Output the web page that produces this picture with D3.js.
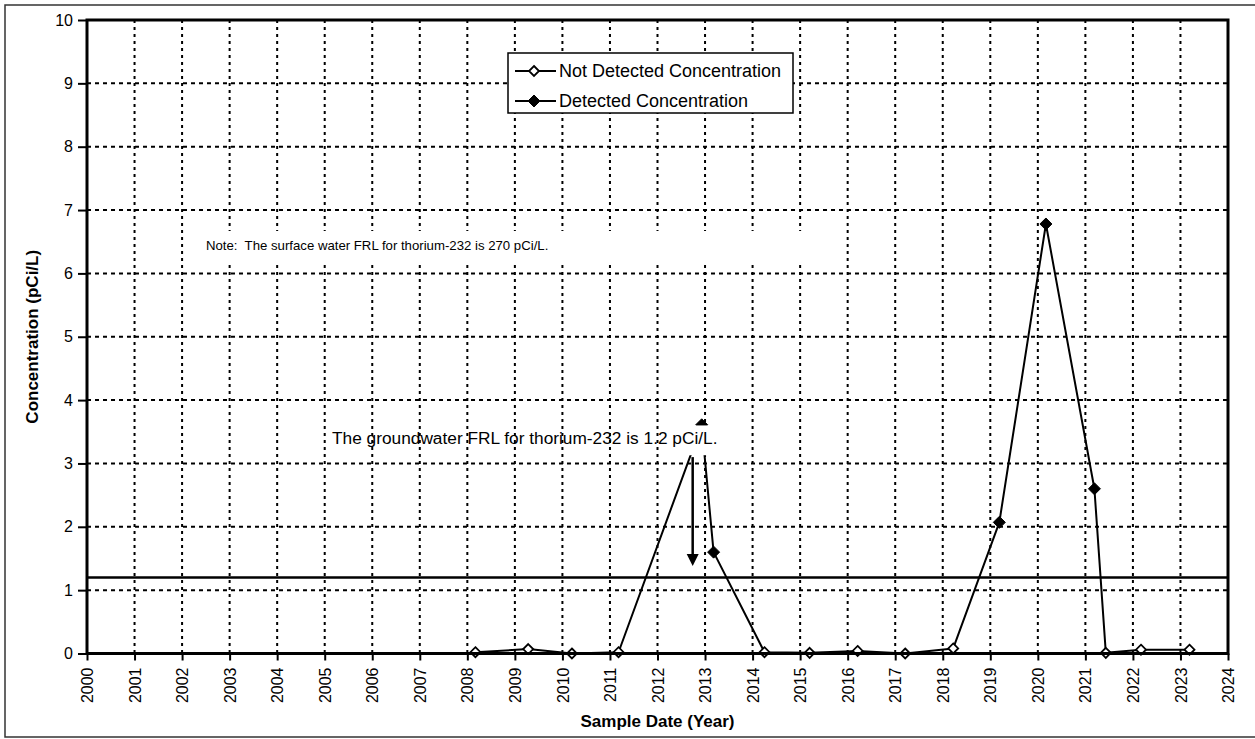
<!DOCTYPE html>
<html>
<head>
<meta charset="utf-8">
<script src="https://cdn.jsdelivr.net/npm/d3@7"></script>
<style>
  html, body { margin: 0; padding: 0; background: #fff; }
  svg { display: block; font-family: "Liberation Sans", Arial, sans-serif; }
</style>
</head>
<body>
<svg id="chart" width="1255" height="739"></svg>
<script>
// Thorium-232 sampling history (pCi/L)
const sampleDates = [2008.17, 2009.28, 2010.2, 2011.18, 2012.93, 2013.18, 2014.25, 2015.2, 2016.21,
                     2017.21, 2018.22, 2019.19, 2020.17, 2021.19, 2021.43, 2022.17, 2023.19];
const concentrations = [0.02, 0.07, 0.0, 0.02, 3.61, 1.6, 0.02, 0.01, 0.04,
                        0.0, 0.08, 2.07, 6.78, 2.6, 0.01, 0.06, 0.06];
const detectedFlags = [false, false, false, false, true, true, false, false, false,
                       false, false, true, true, true, false, false, false];
const yearTicks = d3.range(2000, 2025);
const concTicks = d3.range(0, 11);
const groundwaterFRL = 1.2;
const legendLabels = ["Not Detected Concentration", "Detected Concentration"];
const noteText = "Note:  The surface water FRL for thorium-232 is 270 pCi/L.";
const frlText = "The groundwater FRL for thorium-232 is 1.2 pCi/L.";

const samples = sampleDates.map((d, i) => ({ date: d, value: concentrations[i], detected: detectedFlags[i] }));

const svg = d3.select("#chart");
const plot = { left: 87, right: 1228, top: 20, bottom: 653.5 };

const x = d3.scaleLinear().domain([2000, 2024]).range([plot.left, plot.right]);
const y = d3.scaleLinear().domain([0, 10]).range([plot.bottom, plot.top]);

// outer frame of the figure
svg.append("path")
  .attr("d", "M1260,5 H5 V737 H1260")
  .attr("fill", "none").attr("stroke", "#333").attr("stroke-width", 1.5);

// dotted grid
const grid = svg.append("g");
grid.selectAll("line.h").data(concTicks.slice(1, -1)).join("line")
  .attr("x1", plot.left).attr("x2", plot.right)
  .attr("y1", d => y(d)).attr("y2", d => y(d))
  .attr("stroke", "#000").attr("stroke-width", 2).attr("stroke-dasharray", "4,4");
grid.selectAll("line.v").data(yearTicks.slice(1, -1)).join("line")
  .attr("x1", d => x(d)).attr("x2", d => x(d))
  .attr("y1", plot.top).attr("y2", plot.bottom)
  .attr("stroke", "#000").attr("stroke-width", 2).attr("stroke-dasharray", "3,4");

// groundwater FRL reference line
svg.append("line")
  .attr("x1", plot.left).attr("x2", plot.right)
  .attr("y1", y(groundwaterFRL)).attr("y2", y(groundwaterFRL))
  .attr("stroke", "#000").attr("stroke-width", 2.5);

// concentration trace
const line = d3.line().x(d => x(d.date)).y(d => y(d.value));
svg.append("path").datum(samples)
  .attr("d", line).attr("fill", "none")
  .attr("stroke", "#000").attr("stroke-width", 2).attr("stroke-linejoin", "round");

const diamond = r => `M0,${-r}L${r},0L0,${r}L${-r},0Z`;
svg.append("g").selectAll("path").data(samples).join("path")
  .attr("transform", d => `translate(${x(d.date)},${y(d.value)})`)
  .attr("d", d => diamond(d.detected ? 6 : 5))
  .attr("fill", d => d.detected ? "#000" : "#fff")
  .attr("stroke", "#000").attr("stroke-width", d => d.detected ? 1 : 1.8);

// text boxes with white background
svg.append("rect")
  .attr("x", 200).attr("y", 231).attr("width", 605).attr("height", 30).attr("fill", "#fff");
svg.append("text")
  .attr("x", 206).attr("y", 250)
  .attr("font-size", 13.2).attr("fill", "#000")
  .attr("xml:space", "preserve").style("white-space", "pre")
  .text(noteText);

svg.append("rect")
  .attr("x", x(2012.3)).attr("y", y(3.6))
  .attr("width", x(2013.42) - x(2012.3)).attr("height", y(3.13) - y(3.6))
  .attr("fill", "#fff");
svg.append("text")
  .attr("x", 332).attr("y", 444)
  .attr("font-size", 17.3).attr("fill", "#000")
  .text(frlText);

// arrow pointing at the FRL line
const arrowX = x(2012.74);
svg.append("line")
  .attr("x1", arrowX).attr("x2", arrowX)
  .attr("y1", y(3.1)).attr("y2", y(1.55))
  .attr("stroke", "#000").attr("stroke-width", 2.5);
svg.append("path")
  .attr("d", `M${arrowX - 6},${y(1.57)}L${arrowX + 6},${y(1.57)}L${arrowX},${y(1.38)}Z`)
  .attr("fill", "#000");

// plot border
svg.append("rect")
  .attr("x", plot.left).attr("y", plot.top)
  .attr("width", plot.right - plot.left).attr("height", plot.bottom - plot.top)
  .attr("fill", "none").attr("stroke", "#000").attr("stroke-width", 3);

// axes
const yAxis = svg.append("g")
  .attr("transform", `translate(${plot.left},0)`)
  .call(d3.axisLeft(y).tickValues(concTicks).tickSize(9).tickSizeOuter(0).tickPadding(5));
yAxis.select(".domain").remove();
yAxis.selectAll(".tick line").attr("stroke", "#000").attr("stroke-width", 2);
yAxis.selectAll(".tick text").attr("font-size", 16).attr("fill", "#000")
  .attr("font-family", "Liberation Sans, Arial, sans-serif");

const xAxis = svg.append("g")
  .attr("transform", `translate(0,${plot.bottom})`)
  .call(d3.axisBottom(x).tickValues(yearTicks).tickFormat(d3.format("d")).tickSize(7).tickSizeOuter(0));
xAxis.select(".domain").remove();
xAxis.selectAll(".tick line").attr("stroke", "#000").attr("stroke-width", 2);
xAxis.selectAll(".tick text")
  .attr("font-size", 16).attr("fill", "#000")
  .attr("font-family", "Liberation Sans, Arial, sans-serif")
  .attr("transform", "rotate(-90)")
  .attr("x", -14).attr("y", 0).attr("dy", "0.35em")
  .attr("text-anchor", "end");

// axis titles
svg.append("text")
  .attr("transform", `translate(38,${(plot.top + plot.bottom) / 2}) rotate(-90)`)
  .attr("text-anchor", "middle").attr("font-size", 17).attr("font-weight", "bold")
  .text("Concentration (pCi/L)");
svg.append("text")
  .attr("x", (plot.left + plot.right) / 2).attr("y", 727)
  .attr("text-anchor", "middle").attr("font-size", 17).attr("font-weight", "bold")
  .text("Sample Date (Year)");

// legend
const legend = svg.append("g");
legend.append("rect")
  .attr("x", 508).attr("y", 53).attr("width", 285).attr("height", 60)
  .attr("fill", "#fff").attr("stroke", "#000").attr("stroke-width", 1.5);
const rows = legend.selectAll("g.row").data(legendLabels).join("g")
  .attr("transform", (d, i) => `translate(0,${71 + i * 30})`);
rows.append("line").attr("x1", 515).attr("x2", 556).attr("stroke", "#000").attr("stroke-width", 2);
rows.append("path")
  .attr("transform", "translate(534,0)")
  .attr("d", (d, i) => diamond(i === 0 ? 5 : 6))
  .attr("fill", (d, i) => i === 0 ? "#fff" : "#000")
  .attr("stroke", "#000").attr("stroke-width", (d, i) => i === 0 ? 1.8 : 1);
rows.append("text")
  .attr("x", 559).attr("dy", "0.36em").attr("font-size", 18)
  .text(d => d);
</script>
</body>
</html>
